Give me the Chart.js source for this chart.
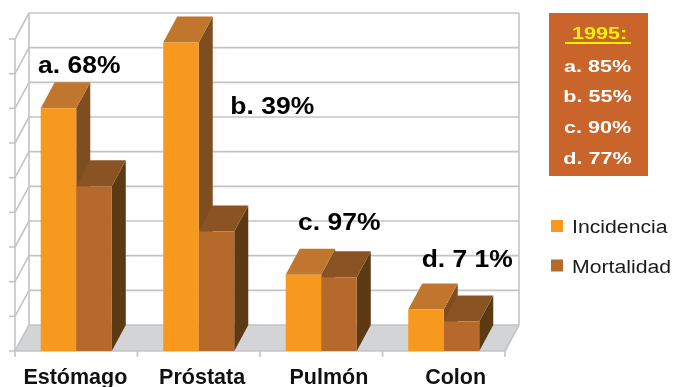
<!DOCTYPE html>
<html><head><meta charset="utf-8">
<script src="https://cdn.jsdelivr.net/npm/chart.js@4/dist/chart.umd.min.js"></script>
<style>html,body{margin:0;padding:0;background:#fff;overflow:hidden}canvas{display:block}</style>
</head><body>
<canvas id="c" width="673" height="387"></canvas>
<script>
// ---- data ----
const categories = ['Estómago', 'Próstata', 'Pulmón', 'Colon'];
const seriesNames = ['Incidencia', 'Mortalidad'];
const incidencia = [70, 89, 22, 12];
const mortalidad = [47.5, 34.5, 21.3, 8.5];
const ratioLabels = ['a. 68%', 'b. 39%', 'c. 97%', 'd. 7 1%'];
const boxTitle = '1995:';
const boxLines = ['a. 85%', 'b. 55%', 'c. 90%', 'd. 77%'];
const yTicks = [0, 10, 20, 30, 40, 50, 60, 70, 80, 90];

// ---- styles / layout ----
const DX = 14, DY = -26;
const faces = [
  { front: '#F7981F', top: '#C0762C', side: '#7E4E1F' },
  { front: '#B56A2B', top: '#8A5323', side: '#5B3A14' }
];
// annotation anchors: pixel offset from category centre, and value-height of baseline
const ratioAnchors = [{ off: 3, v: 80.2 }, { off: 73.5, v: 68.4 }, { off: 18, v: 34.8 }, { off: 23.5, v: 24.1 }];
const FONT = '"Liberation Sans", Arial, sans-serif';

function line(ctx, x1, y1, x2, y2) { ctx.beginPath(); ctx.moveTo(x1, y1); ctx.lineTo(x2, y2); ctx.stroke(); }
function poly(ctx, pts, color) {
  ctx.beginPath(); ctx.moveTo(pts[0][0], pts[0][1]);
  for (let i = 1; i < pts.length; i++) ctx.lineTo(pts[i][0], pts[i][1]);
  ctx.closePath(); ctx.fillStyle = color; ctx.fill();
}
function sText(ctx, text, x, y, font, sx, color, align) {
  ctx.save(); ctx.font = font; ctx.fillStyle = color; ctx.textAlign = align || 'center'; ctx.textBaseline = 'alphabetic';
  ctx.translate(x, y); ctx.scale(sx, 1); ctx.fillText(text, 0, 0); ctx.restore();
}

const threeD = {
  id: 'threeD',
  beforeDatasetsDraw(chart) {
    const { ctx, chartArea: a, scales: { y } } = chart;
    ctx.save();
    // floor
    poly(ctx, [[a.left, a.bottom], [a.right, a.bottom], [a.right + DX, a.bottom + DY], [a.left + DX, a.bottom + DY]], '#D3D4D6');
    // walls
    ctx.strokeStyle = '#C4C4C4'; ctx.lineWidth = 1.6;
    yTicks.forEach(v => {
      const py = y.getPixelForValue(v);
      line(ctx, a.left + DX, py + DY, a.right + DX, py + DY);
      line(ctx, a.left, py, a.left + DX, py + DY);
      line(ctx, a.left - 6, py, a.left, py);
    });
    line(ctx, a.left + DX, a.top + DY, a.left + DX, a.bottom + DY);
    line(ctx, a.right + DX, a.top + DY, a.right + DX, a.bottom + DY);
    line(ctx, a.left, a.top, a.left, a.bottom + 1);
    line(ctx, a.left, a.bottom, a.right, a.bottom);
    line(ctx, a.right, a.bottom, a.right + DX, a.bottom + DY);
    const n = categories.length;
    for (let i = 0; i <= n; i++) {
      const px = a.left + (a.right - a.left) * i / n;
      line(ctx, px, a.bottom, px, a.bottom + 6);
    }
    // side and top faces of the columns (front faces are drawn by Chart.js afterwards)
    chart.data.datasets.forEach((ds, di) => {
      const col = faces[di];
      chart.getDatasetMeta(di).data.forEach(bar => {
        const p = bar.getProps(['x', 'y', 'base', 'width'], true);
        const l = p.x - p.width / 2, r = p.x + p.width / 2;
        poly(ctx, [[r, p.y], [r + DX, p.y + DY], [r + DX, p.base + DY], [r, p.base]], col.side);
        poly(ctx, [[l, p.y], [r, p.y], [r + DX, p.y + DY], [l + DX, p.y + DY]], col.top);
      });
    });
    ctx.restore();
  },
  afterDraw(chart) {
    const { ctx, chartArea: a, scales: { x, y } } = chart;
    ctx.save();
    // category labels (spread between front-left and back-right of floor)
    const L2 = a.left - 3, R2 = a.right + DX;
    categories.forEach((c, i) => {
      const px = x.getPixelForValue(i);
      const lx = L2 + (px - a.left) / (a.right - a.left) * (R2 - L2);
      sText(ctx, c, lx, a.bottom + 32.5, 'bold 21.5px ' + FONT, 1.0, '#111');
    });
    // ratio annotations
    ratioLabels.forEach((t, i) => {
      const an = ratioAnchors[i];
      sText(ctx, t, x.getPixelForValue(i) + an.off, y.getPixelForValue(an.v), 'bold 23px ' + FONT, 1.15, '#000');
    });
    // legend
    const lgX = a.right + 46;
    [233, 272.5].forEach((by, i) => {
      ctx.fillStyle = faces[i].front;
      ctx.fillRect(lgX, by - 13, 12, 12);
      sText(ctx, seriesNames[i], lgX + 21, by, '18px ' + FONT, 1.18, '#1a1a1a', 'left');
    });
    // 1995 box
    const bx = 549, bw = 99;
    ctx.fillStyle = '#C9652A';
    ctx.fillRect(bx, 13, bw, 163);
    const cx = bx + bw / 2;
    sText(ctx, boxTitle, cx + 1, 39, 'bold 17px ' + FONT, 1.27, '#FFF200');
    ctx.fillStyle = '#FFF200';
    ctx.fillRect(565, 42, 66, 2);
    boxLines.forEach((t, i) => {
      sText(ctx, t, cx - 1, 71.5 + i * 30.8, 'bold 17px ' + FONT, 1.27, '#FFFFFF');
    });
    ctx.restore();
  }
};

new Chart(document.getElementById('c'), {
  type: 'bar',
  data: {
    labels: categories,
    datasets: [
      { label: seriesNames[0], data: incidencia, backgroundColor: faces[0].front },
      { label: seriesNames[1], data: mortalidad, backgroundColor: faces[1].front }
    ]
  },
  options: {
    responsive: false,
    animation: false,
    devicePixelRatio: 1,
    layout: { padding: { left: 15, top: 39, right: 168, bottom: 36 } },
    datasets: { bar: { categoryPercentage: 0.58, barPercentage: 1.0, borderWidth: 0 } },
    plugins: { legend: { display: false }, tooltip: { enabled: false } },
    scales: {
      x: { display: false, offset: true },
      y: { display: false, min: 0, max: 90, ticks: { stepSize: 10 } }
    }
  },
  plugins: [threeD]
});
</script>
</body></html>
